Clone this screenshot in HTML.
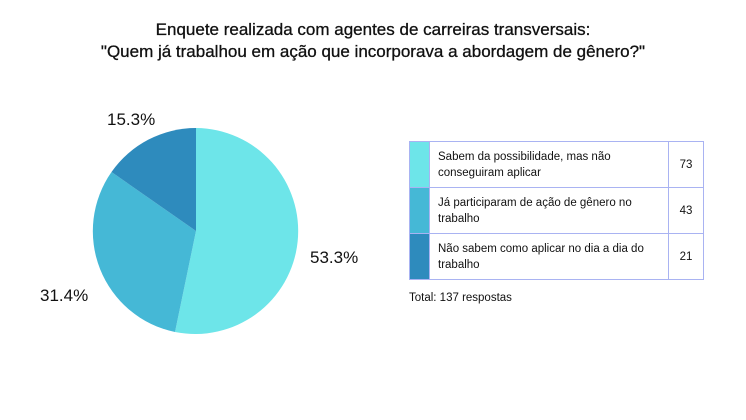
<!DOCTYPE html>
<html><head><meta charset="utf-8"><style>
body{margin:0;width:746px;height:420px;background:#fff;font-family:"Liberation Sans",sans-serif;color:#111;position:relative;overflow:hidden}
.t{position:absolute;left:0;width:746px;text-align:center;font-size:17px;line-height:22px;top:19px;font-weight:500;-webkit-text-stroke:0.3px #111}
.l{position:absolute;font-size:17px}
table{position:absolute;left:409px;top:141px;border-collapse:collapse;font-size:11.5px}
tr{height:46px}
td{border:1.5px solid #a9b3f2;padding:0}
.c{width:19px}
.x{width:230px;padding-left:8px;line-height:16px}
.n{width:34px;text-align:center}
</style></head><body>
<div class="t">Enquete realizada com agentes de carreiras transversais:<br>"Quem já trabalhou em ação que incorporava a abordagem de gênero?"</div>
<svg width="746" height="420" style="position:absolute;left:0;top:0">
<path d="M196,231 L196,128 A103,103 0 1,1 175,332 Z" fill="#6de5e9"/>
<path d="M196,231 L175,332 A103,103 0 0,1 111.5,172 Z" fill="#45b8d6"/>
<path d="M196,231 L111.5,172 A103,103 0 0,1 196,128 Z" fill="#2e8bbd"/>
</svg>
<div class="l" style="left:107px;top:110px">15.3%</div>
<div class="l" style="left:310px;top:248px">53.3%</div>
<div class="l" style="left:40px;top:286px">31.4%</div>
<table>
<tr><td class="c" style="background:#6de5e9"></td><td class="x">Sabem da possibilidade, mas não<br>conseguiram aplicar</td><td class="n">73</td></tr>
<tr><td class="c" style="background:#45b8d6"></td><td class="x">Já participaram de ação de gênero no<br>trabalho</td><td class="n">43</td></tr>
<tr><td class="c" style="background:#2e8bbd"></td><td class="x">Não sabem como aplicar no dia a dia do<br>trabalho</td><td class="n">21</td></tr>
</table>
<div style="position:absolute;left:409px;top:292px;font-size:11.5px">Total: 137 respostas</div>
</body></html>
